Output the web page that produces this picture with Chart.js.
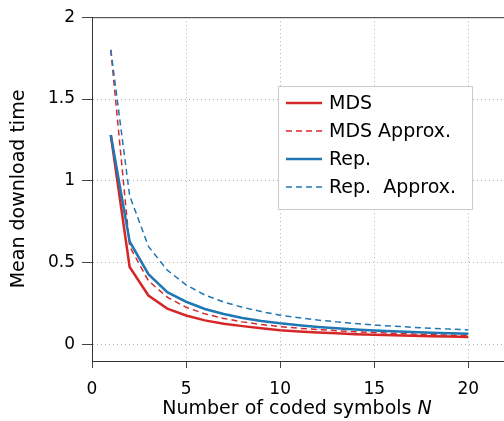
<!DOCTYPE html>
<html><head><meta charset="utf-8">
<script src="https://cdn.jsdelivr.net/npm/chart.js@4/dist/chart.umd.min.js"></script>
<style>html,body{margin:0;padding:0;background:#fff}canvas{display:block}</style>
</head><body>
<canvas id="c" width="504" height="421"></canvas>
<script>
const codedSymbols = [1,2,3,4,5,6,7,8,9,10,11,12,13,14,15,16,17,18,19,20];
const mds       = [1.28,0.474,0.30,0.22,0.178,0.148,0.128,0.113,0.100,0.088,0.080,0.074,0.069,0.064,0.060,0.057,0.054,0.051,0.049,0.047];
const mdsApprox = [1.80,0.60,0.39,0.29,0.228,0.188,0.160,0.139,0.123,0.110,0.100,0.092,0.085,0.079,0.074,0.069,0.065,0.061,0.058,0.055];
const rep       = [1.28,0.63,0.43,0.32,0.262,0.218,0.187,0.163,0.145,0.130,0.118,0.108,0.100,0.093,0.087,0.082,0.077,0.073,0.070,0.067];
const repApprox = [1.80,0.91,0.60,0.455,0.365,0.303,0.260,0.228,0.202,0.180,0.164,0.150,0.139,0.129,0.120,0.113,0.106,0.100,0.095,0.090];
const xTicks = [0,5,10,15,20];
const yTicks = [0,0.5,1,1.5,2];
const seriesLabels = ['MDS','MDS Approx.','Rep.','Rep.  Approx.'];
const xTitle = 'Number of coded symbols ';
const xTitleVar = 'N';
const yTitle = 'Mean download time';

const RED = '#d62728', BLUE = '#1f77b4';
const FONT = '"DejaVu Sans", sans-serif';
const pts = arr => codedSymbols.map((n,i)=>({x:n,y:arr[i]}));

const dsStyle = [
  {color:RED, width:2.5, dash:[]},
  {color:RED, width:1.5, dash:[6,4]},
  {color:BLUE, width:2.5, dash:[]},
  {color:BLUE, width:1.5, dash:[6,4]}
];
const seriesData = [mds, mdsApprox, rep, repApprox];

const datasets = seriesData.map((d,i)=>({
  label: seriesLabels[i],
  data: pts(d),
  borderColor: dsStyle[i].color,
  borderWidth: dsStyle[i].width,
  borderDash: dsStyle[i].dash,
  pointRadius: 0,
  fill: false,
  tension: 0,
  order: 4-i
}));

const extras = {
  id:'extras',
  afterDraw(chart){
    const ctx = chart.ctx, a = chart.chartArea;
    ctx.save();
    ctx.strokeStyle = '#333'; ctx.lineWidth = 1; ctx.setLineDash([]);
    ctx.beginPath(); ctx.moveTo(a.left, a.top+0.5); ctx.lineTo(a.right, a.top+0.5); ctx.stroke();
    const bx=278, by=86, bw=194, bh=123;
    ctx.fillStyle='#fff'; ctx.fillRect(bx,by,bw,bh);
    ctx.strokeStyle='#cccccc'; ctx.lineWidth=1;
    ctx.strokeRect(bx+0.5,by+0.5,bw,bh);
    ctx.font = '19px '+FONT; ctx.textBaseline='middle'; ctx.textAlign='left';
    chart.data.datasets.forEach((ds,i)=>{
      const y = 103 + i*28;
      ctx.strokeStyle = ds.borderColor; ctx.lineWidth = ds.borderWidth;
      ctx.setLineDash(ds.borderDash);
      ctx.beginPath(); ctx.moveTo(286,y); ctx.lineTo(322,y); ctx.stroke();
      ctx.setLineDash([]);
      ctx.fillStyle='#000';
      ctx.fillText(ds.label, 329, y+1);
    });
    ctx.font = '19px '+FONT;
    const w1 = ctx.measureText(xTitle).width;
    ctx.font = 'italic 19px '+FONT;
    const w2 = ctx.measureText(xTitleVar).width;
    const cx = 297, cy = 409;
    let sx = cx - (w1+w2)/2;
    ctx.fillStyle='#000'; ctx.textBaseline='middle';
    ctx.font = '19px '+FONT; ctx.fillText(xTitle, sx, cy);
    ctx.font = 'italic 19px '+FONT; ctx.fillText(xTitleVar, sx+w1, cy);
    ctx.translate(19, 189); ctx.rotate(-Math.PI/2);
    ctx.font = '19px '+FONT; ctx.textAlign='center';
    ctx.fillText(yTitle, 0, 0);
    ctx.restore();
  }
};

new Chart(document.getElementById('c'), {
  type:'line',
  data:{datasets},
  options:{
    responsive:false, animation:false, devicePixelRatio:1,
    layout:{padding:{top:16,left:0,right:0,bottom:0}},
    plugins:{legend:{display:false}, tooltip:{enabled:false}},
    scales:{
      x:{
        type:'linear', min:0, max:21.9,
        afterBuildTicks(s){ s.ticks = xTicks.map(v=>({value:v})); },
        afterFit(s){ s.height = 60; },
        ticks:{font:{family:FONT,size:17}, color:'#000', padding:11, maxRotation:0, autoSkip:false},
        grid:{color:ctx=> (ctx.tick && ctx.tick.value===0) ? 'rgba(0,0,0,0)' : 'rgba(0,0,0,0.3)', lineWidth:1, tickColor:'#444', tickLength:7},
        border:{display:true, color:'#333', width:1, dash:[1,3]}
      },
      y:{
        type:'linear', min:-0.1, max:2,
        afterBuildTicks(s){ s.ticks = yTicks.map(v=>({value:v})); },
        afterFit(s){ s.width = 92; },
        ticks:{font:{family:FONT,size:17}, color:'#000', padding:7, callback:v=>String(v)},
        grid:{color:ctx=> (ctx.tick && ctx.tick.value===2) ? 'rgba(0,0,0,0)' : 'rgba(0,0,0,0.3)', lineWidth:1, tickColor:'#444', tickLength:10},
        border:{display:true, color:'#333', width:1, dash:[1,3]}
      }
    }
  },
  plugins:[extras]
});
</script>
</body></html>
